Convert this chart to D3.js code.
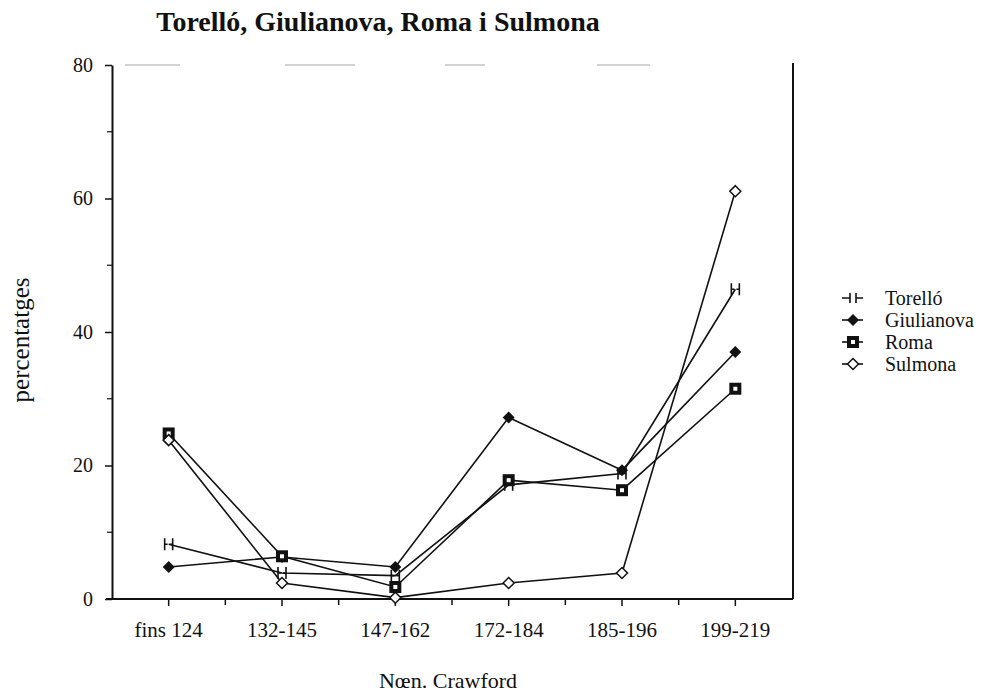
<!DOCTYPE html>
<html>
<head>
<meta charset="utf-8">
<script src="https://cdn.jsdelivr.net/npm/d3@7"></script>
<style>
  body { margin: 0; background: #fff; }
  text { font-family: "Liberation Serif", "Times New Roman", serif; fill: #111; }
</style>
</head>
<body>
<div id="chart"></div>
<script>
// data
const categories = ['fins 124', '132-145', '147-162', '172-184', '185-196', '199-219'];
const torello    = [8.2, 3.9, 3.5, 17.1, 18.8, 46.4];
const giulianova = [4.8, 6.3, 4.8, 27.2, 19.3, 37.0];
const roma       = [24.8, 6.4, 1.8, 17.8, 16.3, 31.5];
const sulmona    = [23.8, 2.4, 0.2, 2.4, 3.9, 61.1];
const yTicks = [0, 20, 40, 60, 80];
const yMinor = [10, 30, 50, 70];

const series = [
  {name: 'Torelló', values: torello, marker: 'hbar'},
  {name: 'Giulianova', values: giulianova, marker: 'diamondFilled'},
  {name: 'Roma', values: roma, marker: 'squareHole'},
  {name: 'Sulmona', values: sulmona, marker: 'diamondOpen'}
];

const width = 989, height = 694;

const svg = d3.select('#chart').append('svg')
  .attr('width', width)
  .attr('height', height);

const x = d3.scaleBand()
  .domain(categories)
  .range([112, 792])
  .padding(0);

const y = d3.scaleLinear()
  .domain([0, 80])
  .range([599, 65]);

const cx = d => x(d) + x.bandwidth() / 2;

// title
svg.append('text')
  .attr('x', 378)
  .attr('y', 31)
  .attr('text-anchor', 'middle')
  .style('font-size', '28px')
  .style('font-weight', 'bold')
  .text('Torelló, Giulianova, Roma i Sulmona');

// faint broken top frame (scan remains)
svg.append('line')
  .attr('x1', 125).attr('x2', 792)
  .attr('y1', y(80)).attr('y2', y(80))
  .attr('stroke', '#c4c4c4')
  .attr('stroke-width', 1.5)
  .attr('stroke-dasharray', '55 105 70 90 40 112 53 200');

// right frame
svg.append('line')
  .attr('x1', 793).attr('x2', 793)
  .attr('y1', y(80) - 2).attr('y2', y(0))
  .attr('stroke', '#111')
  .attr('stroke-width', 2);

// y axis
const yAxis = svg.append('g')
  .attr('transform', `translate(112,0)`)
  .call(d3.axisLeft(y).tickValues(yTicks).tickSize(7).tickPadding(12).tickSizeOuter(0));
yAxis.select('.domain').attr('stroke', '#111').attr('stroke-width', 2);
yAxis.selectAll('.tick line').attr('stroke', '#111').attr('stroke-width', 1.5);
yAxis.selectAll('.tick text')
  .style('font-family', '"Liberation Serif", serif')
  .style('font-size', '20px')
  .attr('fill', '#111');
yAxis.selectAll('.minor')
  .data(yMinor)
  .enter().append('line')
  .attr('x1', -5).attr('x2', 0)
  .attr('y1', d => y(d)).attr('y2', d => y(d))
  .attr('stroke', '#111').attr('stroke-width', 1.2);

// x axis
const xAxis = svg.append('g')
  .attr('transform', `translate(0,${y(0)})`)
  .call(d3.axisBottom(x).tickSize(7).tickPadding(16).tickSizeOuter(0));
xAxis.select('.domain').attr('stroke', '#111').attr('stroke-width', 2)
  .attr('d', `M106,0H793`);
xAxis.selectAll('.tick line').attr('stroke', '#111').attr('stroke-width', 1.5);
xAxis.selectAll('.tick text')
  .style('font-family', '"Liberation Serif", serif')
  .style('font-size', '21px')
  .attr('fill', '#111');
xAxis.selectAll('.edge')
  .data(categories.slice(1))
  .enter().append('line')
  .attr('x1', d => x(d)).attr('x2', d => x(d))
  .attr('y1', 0).attr('y2', 6)
  .attr('stroke', '#111').attr('stroke-width', 1.5);

// axis titles
svg.append('text')
  .attr('transform', 'translate(29,340) rotate(-90)')
  .attr('text-anchor', 'middle')
  .style('font-size', '25px')
  .text('percentatges');

svg.append('text')
  .attr('x', 448)
  .attr('y', 688)
  .attr('text-anchor', 'middle')
  .style('font-size', '22px')
  .text('Nœn. Crawford');

// markers
function drawMarker(g, type) {
  if (type === 'hbar') {
    g.append('path')
      .attr('d', 'M-4,-6V6M4,-6V6M-4,0H-1M1,0H4')
      .attr('stroke', '#111').attr('stroke-width', 1.6).attr('fill', 'none');
  } else if (type === 'diamondFilled') {
    g.append('path')
      .attr('d', 'M0,-6L6,0L0,6L-6,0Z')
      .attr('fill', '#111');
  } else if (type === 'squareHole') {
    g.append('rect')
      .attr('x', -6).attr('y', -6).attr('width', 12).attr('height', 12)
      .attr('fill', '#111');
    g.append('rect')
      .attr('x', -2).attr('y', -2).attr('width', 4).attr('height', 4)
      .attr('fill', '#fff');
  } else {
    g.append('path')
      .attr('d', 'M0,-5.5L5.5,0L0,5.5L-5.5,0Z')
      .attr('fill', '#fff').attr('stroke', '#111').attr('stroke-width', 1.5);
  }
}

const line = d3.line()
  .x((d, i) => cx(categories[i]))
  .y(d => y(d));

series.forEach(s => {
  svg.append('path')
    .datum(s.values)
    .attr('d', line)
    .attr('fill', 'none')
    .attr('stroke', '#111')
    .attr('stroke-width', 1.6);
});

// draw markers after lines, so lines stay under them
series.forEach(s => {
  s.values.forEach((v, i) => {
    const g = svg.append('g')
      .attr('transform', `translate(${cx(categories[i])},${y(v)})`);
    drawMarker(g, s.marker);
  });
});

// legend
const legend = svg.append('g').attr('transform', 'translate(846,298)');
series.forEach((s, i) => {
  const row = legend.append('g').attr('transform', `translate(0,${i * 22})`);
  if (s.marker === 'hbar') {
    row.append('path')
      .attr('d', 'M-4,0H4M4,-5V5M10,-5V5M10,0H17')
      .attr('stroke', '#111').attr('stroke-width', 1.6).attr('fill', 'none');
  } else {
    row.append('line')
      .attr('x1', -4).attr('x2', 17)
      .attr('stroke', '#111').attr('stroke-width', 1.6);
    const m = row.append('g').attr('transform', 'translate(7,0)');
    drawMarker(m, s.marker);
  }
  row.append('text')
    .attr('x', 39)
    .attr('y', 7)
    .style('font-size', '20px')
    .text(s.name);
});
</script>
</body>
</html>
